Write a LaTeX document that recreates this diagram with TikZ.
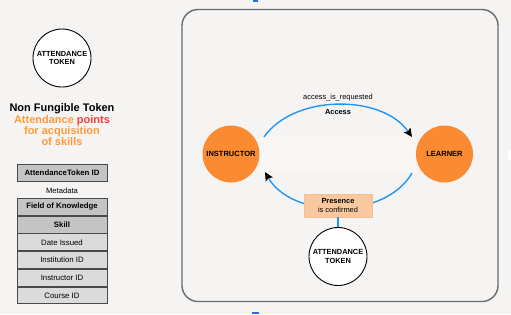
\documentclass[tikz,border=0pt]{standalone}
\usepackage{fontspec}
\setmainfont{Liberation Sans}
\usetikzlibrary{calc,arrows.meta}
\definecolor{bgc}{HTML}{F6F4F3}
\definecolor{bandc}{HTML}{F8F7F6}
\definecolor{orangec}{HTML}{FA8B33}
\definecolor{flowc}{HTML}{2196F3}
\definecolor{boxc}{HTML}{F9C89E}
\definecolor{boxline}{HTML}{F5BE90}
\definecolor{darkrow}{HTML}{C4C4C4}
\definecolor{literow}{HTML}{DBDBDB}
\definecolor{rowline}{HTML}{4A4A4A}
\definecolor{framec}{HTML}{6B6B6B}
\definecolor{txtor}{HTML}{FF9A3C}
\definecolor{txtred}{HTML}{FF3B3B}
\definecolor{markc}{HTML}{1A73E8}
\begin{document}
\begin{tikzpicture}[x=1pt,y=-1pt,
  token/.style={circle, draw=black, line width=0.9pt, fill=white, minimum size=58pt, inner sep=0pt, align=center, font=\fontsize{7.4}{8.8}\selectfont\bfseries},
  actor/.style={circle, fill=orangec, minimum size=57pt, inner sep=0pt, font=\fontsize{7.5}{9}\selectfont\bfseries},
  flow/.style={draw=flowc, line width=1.4pt},
  tipblack/.style={-{Stealth[length=8.5pt,width=8pt,inset=1.5pt,color=black]}},
  rowbase/.style={draw=rowline, line width=0.9pt, minimum width=90pt, minimum height=16.8pt, inner sep=0pt, anchor=north},
  rowdark/.style={rowbase, fill=darkrow, font=\fontsize{7.8}{9}\selectfont\bfseries},
  rowlite/.style={rowbase, fill=literow, font=\fontsize{7.8}{9}\selectfont},
  lbl/.style={inner sep=0pt, font=\fontsize{7.4}{9}\selectfont}
]
\useasboundingbox (0,0) rectangle (511,314);
\fill[bgc] (0,0) rectangle (511,314);
% small marks at the edges
\fill[markc] (253,0) rectangle (258,1.6);
\fill[markc] (252,312.2) rectangle (259,314);
\fill[white] (508,150) rectangle (511,160);

% main frame
\draw[framec, line width=1.4pt, rounded corners=16pt] (182,9.5) rectangle (498,301.5);
\fill[bandc] (259,137) rectangle (416,173);

% left column
\node[token] (tokL) at (62,58) {ATTENDANCE\\TOKEN};
\node[align=center, inner sep=0pt, font=\fontsize{11}{11.3}\selectfont\bfseries] (title) at (62,125)
  {Non Fungible Token\\ \textcolor{txtor}{Attendance} \textcolor{txtred}{points}\\ \textcolor{txtor}{for acquisition}\\ \textcolor{txtor}{of skills}};

\node[rowdark] (rid) at (62,164) {AttendanceToken ID};
\node[lbl, font=\fontsize{7.6}{9}\selectfont] (meta) at (62,190.5) {Metadata};
\node[rowdark] (r1) at (62,198) {Field of Knowledge};
\node[rowdark] (r2) at (r1.south) {Skill};
\node[rowlite] (r3) at (r2.south) {Date Issued};
\node[rowlite] (r4) at (r3.south) {Institution ID};
\node[rowlite] (r5) at (r4.south) {Instructor ID};
\node[rowlite] (r6) at (r5.south) {Course ID};

% right diagram
\node[actor] (instr) at (231,154) {INSTRUCTOR};
\node[actor] (learn) at (444.5,154) {LEARNER};
\node[token] (tokB) at (338,256.5) {ATTENDANCE\\TOKEN};

\draw[flow, tipblack] ($(instr)+(33,-17)$) .. controls +(30,-43) and +(-30,-43) .. ($(learn)+(-32.5,-17)$);
\node[lbl] (req) at (338,98) {access\_is\_requested};
\node[lbl, font=\fontsize{7.4}{9}\selectfont\bfseries] (acc) at (338,112) {Access};

\draw[flow, tipblack] ($(learn)+(-32.5,19)$) .. controls +(-27,47) and +(27,47) .. ($(instr)+(34,18)$);
\node[fill=boxc, draw=boxline, line width=0.6pt, minimum width=68pt, minimum height=23pt, inner sep=0pt, align=center, font=\fontsize{7.4}{8.6}\selectfont] (pres) at (338,205.5)
  {\textbf{Presence}\\is confirmed};
\draw[flow] (pres.south) -- (tokB.north);
\end{tikzpicture}
\end{document}
